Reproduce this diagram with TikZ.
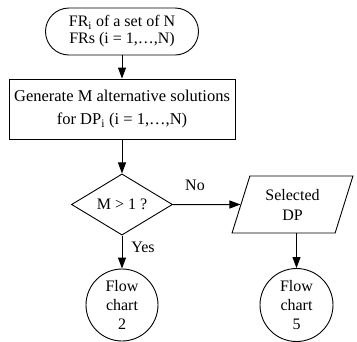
\documentclass[tikz,border=0pt]{standalone}
\usepackage{fontspec}
\setmainfont{Liberation Serif}
\usetikzlibrary{arrows.meta,shapes.geometric}
\begin{document}
\begin{tikzpicture}[x=1pt,y=-1pt,
  every node/.style={font=\fontsize{16}{17}\selectfont, align=center, inner sep=0pt},
  box/.style={draw, line width=0.9pt},
  arr/.style={line width=1pt, -{Triangle[length=11pt,width=8pt]}}]
\useasboundingbox (0,0) rectangle (357,341);
\node[box, rounded corners=23.5pt, minimum width=153pt, minimum height=47pt] (start) at (122,31.5) {FR\textsubscript{i} of a set of N\\FRs (i = 1,…,N)};
\node[box, minimum width=226pt, minimum height=60pt, font=\fontsize{16.5}{23}\selectfont] (gen) at (122,109) {Generate M alternative solutions\\for DP\textsubscript{i} (i = 1,…,N)};
\node[box, diamond, minimum width=101pt, minimum height=59pt] (dec) at (122,204.5) {M > 1 ?};
\node[box, trapezium, trapezium left angle=70, trapezium right angle=110, trapezium stretches=true, minimum width=121pt, minimum height=57pt, font=\fontsize{16}{20}\selectfont] (sel) at (292.5,204.5) {Selected\\DP};
\node[box, circle, minimum size=72pt, font=\fontsize{16}{19}\selectfont] (fc2) at (122,305) {Flow\\chart\\2};
\node[box, circle, minimum size=73pt, font=\fontsize{16}{19}\selectfont] (fc5) at (296.5,305) {Flow\\chart\\5};
\node (no) at (195,185) {No};
\node (yes) at (143,247) {Yes};
\draw[arr] (start) -- (gen);
\draw[arr] (gen) -- (dec);
\draw[arr] (dec.east) -- (sel.west);
\draw[arr] (dec) -- (fc2);
\draw[arr] (sel.south -| fc5.north) -- (fc5.north);
\end{tikzpicture}
\end{document}
